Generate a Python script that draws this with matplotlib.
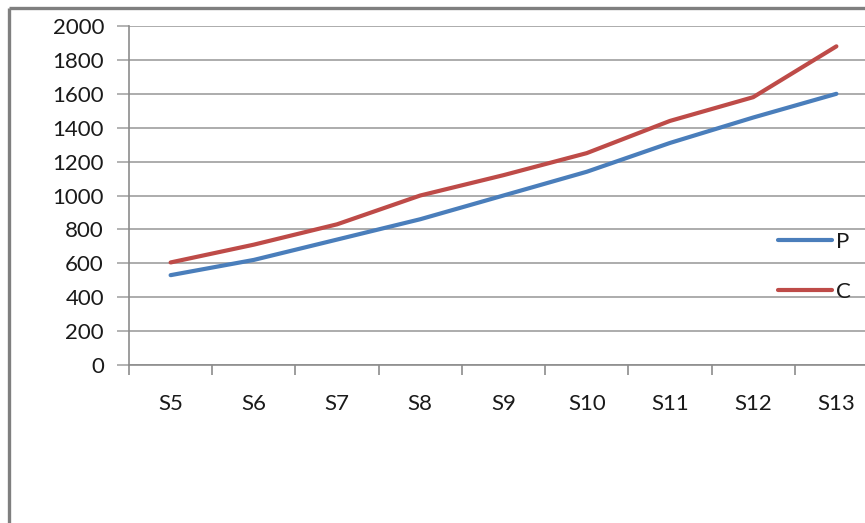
import matplotlib
matplotlib.use("Agg")
import matplotlib.pyplot as plt
from matplotlib.lines import Line2D

categories = ["S5", "S6", "S7", "S8", "S9", "S10", "S11", "S12", "S13"]
p_values = [530, 620, 740, 860, 1000, 1140, 1310, 1460, 1600]
c_values = [605, 710, 830, 1000, 1120, 1250, 1440, 1580, 1880]
y_ticks = [0, 200, 400, 600, 800, 1000, 1200, 1400, 1600, 1800, 2000]

plt.rcParams["font.family"] = ["Lato", "DejaVu Sans"]

W, H = 865, 523
fig = plt.figure(figsize=(W / 100, H / 100), dpi=100)
fig.patch.set_facecolor("white")

# chart frame (top and left edges)
fig.add_artist(Line2D([9 / W, 9 / W], [0, 1 - 8 / H], transform=fig.transFigure,
                      color="#7f7f7f", lw=2.4, solid_capstyle="butt"))
fig.add_artist(Line2D([9 / W, 1], [1 - 8 / H, 1 - 8 / H], transform=fig.transFigure,
                      color="#7f7f7f", lw=2.4, solid_capstyle="butt"))

left, right = 129, 878
top, bottom = 26, 365
ax = fig.add_axes([left / W, 1 - bottom / H, (right - left) / W, (bottom - top) / H])
ax.set_facecolor("none")

fs = 16
x = list(range(len(categories)))
ax.plot(x, p_values, color="#4a7ebb", lw=3.0, label="P", solid_capstyle="round")
ax.plot(x, c_values, color="#be4b48", lw=3.0, label="C", solid_capstyle="round")

ax.set_xlim(-0.5, len(categories) - 0.5)
ax.set_ylim(0, 2000)
ax.set_yticks(y_ticks)
ax.set_yticklabels([str(v) for v in y_ticks], fontsize=fs, color="#1a1a1a")
ax.yaxis.grid(True, color="#a6a6a6", lw=1.3)
ax.set_axisbelow(True)

# category boundaries carry tick marks, labels sit at category centres
ax.set_xticks([i - 0.5 for i in range(len(categories) + 1)])
ax.set_xticklabels([])
ax.set_xticks(x, minor=True)
ax.set_xticklabels(categories, minor=True, fontsize=fs, color="#1a1a1a")
ax.tick_params(axis="x", which="major", length=7, width=1.2, color="#8c8c8c", direction="out")
ax.tick_params(axis="x", which="minor", length=0, pad=21)
ax.tick_params(axis="y", length=9, width=1.2, color="#a6a6a6", pad=9)

for s in ["top", "right"]:
    ax.spines[s].set_visible(False)
ax.spines["left"].set_color("#8c8c8c")
ax.spines["bottom"].set_color("#8c8c8c")
ax.spines["left"].set_linewidth(1.2)
ax.spines["bottom"].set_linewidth(1.2)

leg = fig.legend(loc="upper left", bbox_to_anchor=(778 / W, 1 - 232 / H),
                 frameon=False, fontsize=fs, handlelength=2.45, handletextpad=0.18,
                 labelspacing=1.35, borderpad=0, borderaxespad=0)
for t in leg.get_texts():
    t.set_color("#1a1a1a")

fig.savefig("out.png", dpi=100, facecolor="white")
